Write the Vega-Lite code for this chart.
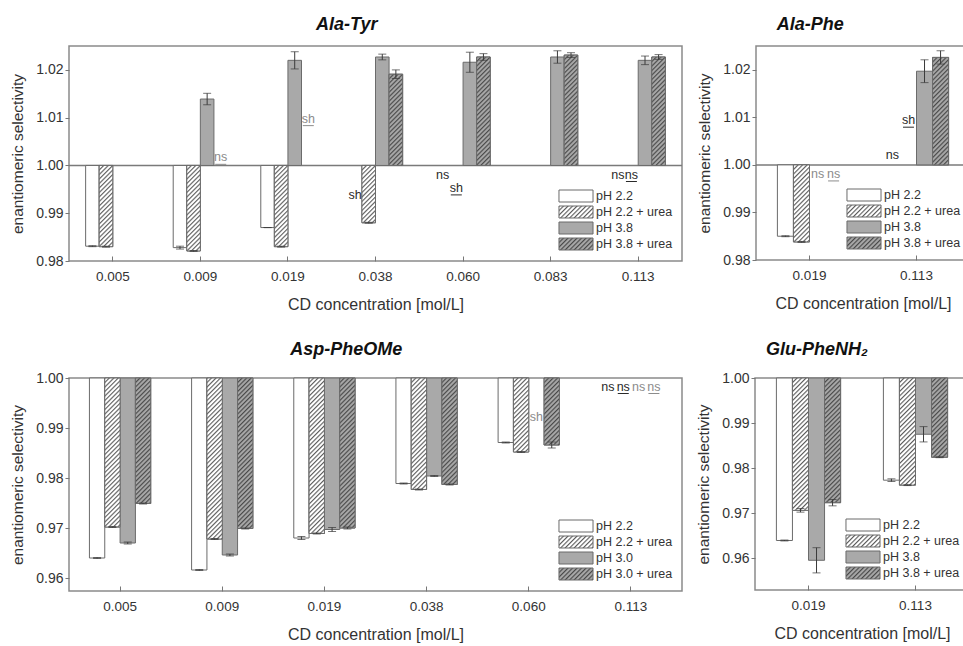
{
  "$schema": "https://vega.github.io/schema/vega-lite/v6.json",
  "padding": {"left": 10, "top": 15, "right": 0, "bottom": 0},
  "background": "#ffffff",
  "params": [
    {"name": "hatchLight", "value": [
      {"offset":0,"color":"#5e5e5e"},{"offset":0.01,"color":"#ffffff"},{"offset":0.0175,"color":"#ffffff"},
      {"offset":0.025,"color":"#5e5e5e"},{"offset":0.035,"color":"#ffffff"},{"offset":0.0425,"color":"#ffffff"},
      {"offset":0.05,"color":"#5e5e5e"},{"offset":0.06,"color":"#ffffff"},{"offset":0.0675,"color":"#ffffff"},
      {"offset":0.075,"color":"#5e5e5e"},{"offset":0.085,"color":"#ffffff"},{"offset":0.0925,"color":"#ffffff"},
      {"offset":0.1,"color":"#5e5e5e"},{"offset":0.11,"color":"#ffffff"},{"offset":0.1175,"color":"#ffffff"},
      {"offset":0.125,"color":"#5e5e5e"},{"offset":0.135,"color":"#ffffff"},{"offset":0.1425,"color":"#ffffff"},
      {"offset":0.15,"color":"#5e5e5e"},{"offset":0.16,"color":"#ffffff"},{"offset":0.1675,"color":"#ffffff"},
      {"offset":0.175,"color":"#5e5e5e"},{"offset":0.185,"color":"#ffffff"},{"offset":0.1925,"color":"#ffffff"},
      {"offset":0.2,"color":"#5e5e5e"},{"offset":0.21,"color":"#ffffff"},{"offset":0.2175,"color":"#ffffff"},
      {"offset":0.225,"color":"#5e5e5e"},{"offset":0.235,"color":"#ffffff"},{"offset":0.2425,"color":"#ffffff"},
      {"offset":0.25,"color":"#5e5e5e"},{"offset":0.26,"color":"#ffffff"},{"offset":0.2675,"color":"#ffffff"},
      {"offset":0.275,"color":"#5e5e5e"},{"offset":0.285,"color":"#ffffff"},{"offset":0.2925,"color":"#ffffff"},
      {"offset":0.3,"color":"#5e5e5e"},{"offset":0.31,"color":"#ffffff"},{"offset":0.3175,"color":"#ffffff"},
      {"offset":0.325,"color":"#5e5e5e"},{"offset":0.335,"color":"#ffffff"},{"offset":0.3425,"color":"#ffffff"},
      {"offset":0.35,"color":"#5e5e5e"},{"offset":0.36,"color":"#ffffff"},{"offset":0.3675,"color":"#ffffff"},
      {"offset":0.375,"color":"#5e5e5e"},{"offset":0.385,"color":"#ffffff"},{"offset":0.3925,"color":"#ffffff"},
      {"offset":0.4,"color":"#5e5e5e"},{"offset":0.41,"color":"#ffffff"},{"offset":0.4175,"color":"#ffffff"},
      {"offset":0.425,"color":"#5e5e5e"},{"offset":0.435,"color":"#ffffff"},{"offset":0.4425,"color":"#ffffff"},
      {"offset":0.45,"color":"#5e5e5e"},{"offset":0.46,"color":"#ffffff"},{"offset":0.4675,"color":"#ffffff"},
      {"offset":0.475,"color":"#5e5e5e"},{"offset":0.485,"color":"#ffffff"},{"offset":0.4925,"color":"#ffffff"},
      {"offset":0.5,"color":"#5e5e5e"},{"offset":0.51,"color":"#ffffff"},{"offset":0.5175,"color":"#ffffff"},
      {"offset":0.525,"color":"#5e5e5e"},{"offset":0.535,"color":"#ffffff"},{"offset":0.5425,"color":"#ffffff"},
      {"offset":0.55,"color":"#5e5e5e"},{"offset":0.56,"color":"#ffffff"},{"offset":0.5675,"color":"#ffffff"},
      {"offset":0.575,"color":"#5e5e5e"},{"offset":0.585,"color":"#ffffff"},{"offset":0.5925,"color":"#ffffff"},
      {"offset":0.6,"color":"#5e5e5e"},{"offset":0.61,"color":"#ffffff"},{"offset":0.6175,"color":"#ffffff"},
      {"offset":0.625,"color":"#5e5e5e"},{"offset":0.635,"color":"#ffffff"},{"offset":0.6425,"color":"#ffffff"},
      {"offset":0.65,"color":"#5e5e5e"},{"offset":0.66,"color":"#ffffff"},{"offset":0.6675,"color":"#ffffff"},
      {"offset":0.675,"color":"#5e5e5e"},{"offset":0.685,"color":"#ffffff"},{"offset":0.6925,"color":"#ffffff"},
      {"offset":0.7,"color":"#5e5e5e"},{"offset":0.71,"color":"#ffffff"},{"offset":0.7175,"color":"#ffffff"},
      {"offset":0.725,"color":"#5e5e5e"},{"offset":0.735,"color":"#ffffff"},{"offset":0.7425,"color":"#ffffff"},
      {"offset":0.75,"color":"#5e5e5e"},{"offset":0.76,"color":"#ffffff"},{"offset":0.7675,"color":"#ffffff"},
      {"offset":0.775,"color":"#5e5e5e"},{"offset":0.785,"color":"#ffffff"},{"offset":0.7925,"color":"#ffffff"},
      {"offset":0.8,"color":"#5e5e5e"},{"offset":0.81,"color":"#ffffff"},{"offset":0.8175,"color":"#ffffff"},
      {"offset":0.825,"color":"#5e5e5e"},{"offset":0.835,"color":"#ffffff"},{"offset":0.8425,"color":"#ffffff"},
      {"offset":0.85,"color":"#5e5e5e"},{"offset":0.86,"color":"#ffffff"},{"offset":0.8675,"color":"#ffffff"},
      {"offset":0.875,"color":"#5e5e5e"},{"offset":0.885,"color":"#ffffff"},{"offset":0.8925,"color":"#ffffff"},
      {"offset":0.9,"color":"#5e5e5e"},{"offset":0.91,"color":"#ffffff"},{"offset":0.9175,"color":"#ffffff"},
      {"offset":0.925,"color":"#5e5e5e"},{"offset":0.935,"color":"#ffffff"},{"offset":0.9425,"color":"#ffffff"},
      {"offset":0.95,"color":"#5e5e5e"},{"offset":0.96,"color":"#ffffff"},{"offset":0.9675,"color":"#ffffff"},
      {"offset":0.975,"color":"#5e5e5e"},{"offset":0.985,"color":"#ffffff"},{"offset":0.9925,"color":"#ffffff"},
      {"offset":1,"color":"#5e5e5e"}
    ]},
    {"name": "hatchDark", "value": [
      {"offset":0,"color":"#4a4a4a"},{"offset":0.01,"color":"#a6a6a6"},{"offset":0.0175,"color":"#a6a6a6"},
      {"offset":0.025,"color":"#4a4a4a"},{"offset":0.035,"color":"#a6a6a6"},{"offset":0.0425,"color":"#a6a6a6"},
      {"offset":0.05,"color":"#4a4a4a"},{"offset":0.06,"color":"#a6a6a6"},{"offset":0.0675,"color":"#a6a6a6"},
      {"offset":0.075,"color":"#4a4a4a"},{"offset":0.085,"color":"#a6a6a6"},{"offset":0.0925,"color":"#a6a6a6"},
      {"offset":0.1,"color":"#4a4a4a"},{"offset":0.11,"color":"#a6a6a6"},{"offset":0.1175,"color":"#a6a6a6"},
      {"offset":0.125,"color":"#4a4a4a"},{"offset":0.135,"color":"#a6a6a6"},{"offset":0.1425,"color":"#a6a6a6"},
      {"offset":0.15,"color":"#4a4a4a"},{"offset":0.16,"color":"#a6a6a6"},{"offset":0.1675,"color":"#a6a6a6"},
      {"offset":0.175,"color":"#4a4a4a"},{"offset":0.185,"color":"#a6a6a6"},{"offset":0.1925,"color":"#a6a6a6"},
      {"offset":0.2,"color":"#4a4a4a"},{"offset":0.21,"color":"#a6a6a6"},{"offset":0.2175,"color":"#a6a6a6"},
      {"offset":0.225,"color":"#4a4a4a"},{"offset":0.235,"color":"#a6a6a6"},{"offset":0.2425,"color":"#a6a6a6"},
      {"offset":0.25,"color":"#4a4a4a"},{"offset":0.26,"color":"#a6a6a6"},{"offset":0.2675,"color":"#a6a6a6"},
      {"offset":0.275,"color":"#4a4a4a"},{"offset":0.285,"color":"#a6a6a6"},{"offset":0.2925,"color":"#a6a6a6"},
      {"offset":0.3,"color":"#4a4a4a"},{"offset":0.31,"color":"#a6a6a6"},{"offset":0.3175,"color":"#a6a6a6"},
      {"offset":0.325,"color":"#4a4a4a"},{"offset":0.335,"color":"#a6a6a6"},{"offset":0.3425,"color":"#a6a6a6"},
      {"offset":0.35,"color":"#4a4a4a"},{"offset":0.36,"color":"#a6a6a6"},{"offset":0.3675,"color":"#a6a6a6"},
      {"offset":0.375,"color":"#4a4a4a"},{"offset":0.385,"color":"#a6a6a6"},{"offset":0.3925,"color":"#a6a6a6"},
      {"offset":0.4,"color":"#4a4a4a"},{"offset":0.41,"color":"#a6a6a6"},{"offset":0.4175,"color":"#a6a6a6"},
      {"offset":0.425,"color":"#4a4a4a"},{"offset":0.435,"color":"#a6a6a6"},{"offset":0.4425,"color":"#a6a6a6"},
      {"offset":0.45,"color":"#4a4a4a"},{"offset":0.46,"color":"#a6a6a6"},{"offset":0.4675,"color":"#a6a6a6"},
      {"offset":0.475,"color":"#4a4a4a"},{"offset":0.485,"color":"#a6a6a6"},{"offset":0.4925,"color":"#a6a6a6"},
      {"offset":0.5,"color":"#4a4a4a"},{"offset":0.51,"color":"#a6a6a6"},{"offset":0.5175,"color":"#a6a6a6"},
      {"offset":0.525,"color":"#4a4a4a"},{"offset":0.535,"color":"#a6a6a6"},{"offset":0.5425,"color":"#a6a6a6"},
      {"offset":0.55,"color":"#4a4a4a"},{"offset":0.56,"color":"#a6a6a6"},{"offset":0.5675,"color":"#a6a6a6"},
      {"offset":0.575,"color":"#4a4a4a"},{"offset":0.585,"color":"#a6a6a6"},{"offset":0.5925,"color":"#a6a6a6"},
      {"offset":0.6,"color":"#4a4a4a"},{"offset":0.61,"color":"#a6a6a6"},{"offset":0.6175,"color":"#a6a6a6"},
      {"offset":0.625,"color":"#4a4a4a"},{"offset":0.635,"color":"#a6a6a6"},{"offset":0.6425,"color":"#a6a6a6"},
      {"offset":0.65,"color":"#4a4a4a"},{"offset":0.66,"color":"#a6a6a6"},{"offset":0.6675,"color":"#a6a6a6"},
      {"offset":0.675,"color":"#4a4a4a"},{"offset":0.685,"color":"#a6a6a6"},{"offset":0.6925,"color":"#a6a6a6"},
      {"offset":0.7,"color":"#4a4a4a"},{"offset":0.71,"color":"#a6a6a6"},{"offset":0.7175,"color":"#a6a6a6"},
      {"offset":0.725,"color":"#4a4a4a"},{"offset":0.735,"color":"#a6a6a6"},{"offset":0.7425,"color":"#a6a6a6"},
      {"offset":0.75,"color":"#4a4a4a"},{"offset":0.76,"color":"#a6a6a6"},{"offset":0.7675,"color":"#a6a6a6"},
      {"offset":0.775,"color":"#4a4a4a"},{"offset":0.785,"color":"#a6a6a6"},{"offset":0.7925,"color":"#a6a6a6"},
      {"offset":0.8,"color":"#4a4a4a"},{"offset":0.81,"color":"#a6a6a6"},{"offset":0.8175,"color":"#a6a6a6"},
      {"offset":0.825,"color":"#4a4a4a"},{"offset":0.835,"color":"#a6a6a6"},{"offset":0.8425,"color":"#a6a6a6"},
      {"offset":0.85,"color":"#4a4a4a"},{"offset":0.86,"color":"#a6a6a6"},{"offset":0.8675,"color":"#a6a6a6"},
      {"offset":0.875,"color":"#4a4a4a"},{"offset":0.885,"color":"#a6a6a6"},{"offset":0.8925,"color":"#a6a6a6"},
      {"offset":0.9,"color":"#4a4a4a"},{"offset":0.91,"color":"#a6a6a6"},{"offset":0.9175,"color":"#a6a6a6"},
      {"offset":0.925,"color":"#4a4a4a"},{"offset":0.935,"color":"#a6a6a6"},{"offset":0.9425,"color":"#a6a6a6"},
      {"offset":0.95,"color":"#4a4a4a"},{"offset":0.96,"color":"#a6a6a6"},{"offset":0.9675,"color":"#a6a6a6"},
      {"offset":0.975,"color":"#4a4a4a"},{"offset":0.985,"color":"#a6a6a6"},{"offset":0.9925,"color":"#a6a6a6"},
      {"offset":1,"color":"#4a4a4a"}
    ]}
  ],
  "datasets": {
    "alaTyr": [
      {"c":"0.005","s":"pH 2.2","v":0.9831,"e":0.0001},
      {"c":"0.005","s":"pH 2.2 + urea","v":0.983,"e":0.0001},
      {"c":"0.009","s":"pH 2.2","v":0.9828,"e":0.0003},
      {"c":"0.009","s":"pH 2.2 + urea","v":0.9821,"e":0.0001},
      {"c":"0.009","s":"pH 3.8","v":1.0139,"e":0.0012},
      {"c":"0.019","s":"pH 2.2","v":0.987,"e":0},
      {"c":"0.019","s":"pH 2.2 + urea","v":0.983,"e":0.0001},
      {"c":"0.019","s":"pH 3.8","v":1.022,"e":0.0018},
      {"c":"0.038","s":"pH 2.2 + urea","v":0.988,"e":0.0001},
      {"c":"0.038","s":"pH 3.8","v":1.0227,"e":0.0006},
      {"c":"0.038","s":"pH 3.8 + urea","v":1.0191,"e":0.0009},
      {"c":"0.060","s":"pH 3.8","v":1.0216,"e":0.0021},
      {"c":"0.060","s":"pH 3.8 + urea","v":1.0227,"e":0.0007},
      {"c":"0.083","s":"pH 3.8","v":1.0227,"e":0.0013},
      {"c":"0.083","s":"pH 3.8 + urea","v":1.0231,"e":0.0005},
      {"c":"0.113","s":"pH 3.8","v":1.022,"e":0.0009},
      {"c":"0.113","s":"pH 3.8 + urea","v":1.0227,"e":0.0005}
    ],
    "alaTyrNotes": [
      {"c":"0.009","s":"pH 3.8 + urea","t":"ns","v":1.0017},
      {"c":"0.019","s":"pH 3.8 + urea","t":"sh","v":1.0098},
      {"c":"0.038","s":"pH 2.2","t":"sh","v":0.9938},
      {"c":"0.060","s":"pH 2.2","t":"ns","v":0.9981},
      {"c":"0.060","s":"pH 2.2 + urea","t":"sh","v":0.9953},
      {"c":"0.113","s":"pH 2.2","t":"ns","v":0.9981},
      {"c":"0.113","s":"pH 2.2 + urea","t":"ns","v":0.9981}
    ],
    "alaPhe": [
      {"c":"0.019","s":"pH 2.2","v":0.985,"e":0.0001},
      {"c":"0.019","s":"pH 2.2 + urea","v":0.9838,"e":0.0001},
      {"c":"0.113","s":"pH 3.8","v":1.0197,"e":0.0024},
      {"c":"0.113","s":"pH 3.8 + urea","v":1.0226,"e":0.0014}
    ],
    "alaPheNotes": [
      {"c":"0.019","s":"pH 3.8","t":"ns","v":0.9981},
      {"c":"0.019","s":"pH 3.8 + urea","t":"ns","v":0.9981},
      {"c":"0.113","s":"pH 2.2","t":"ns","v":1.0021},
      {"c":"0.113","s":"pH 2.2 + urea","t":"sh","v":1.0094}
    ],
    "aspPheOMe": [
      {"c":"0.005","s":"pH 2.2","v":0.964,"e":0.0001},
      {"c":"0.005","s":"pH 2.2 + urea","v":0.9702,"e":0.0001},
      {"c":"0.005","s":"pH 3.0","v":0.967,"e":0.0002},
      {"c":"0.005","s":"pH 3.0 + urea","v":0.9749,"e":0.0001},
      {"c":"0.009","s":"pH 2.2","v":0.9616,"e":0.0001},
      {"c":"0.009","s":"pH 2.2 + urea","v":0.9678,"e":0.0001},
      {"c":"0.009","s":"pH 3.0","v":0.9646,"e":0.0002},
      {"c":"0.009","s":"pH 3.0 + urea","v":0.9699,"e":0.0001},
      {"c":"0.019","s":"pH 2.2","v":0.968,"e":0.0003},
      {"c":"0.019","s":"pH 2.2 + urea","v":0.9689,"e":0.0001},
      {"c":"0.019","s":"pH 3.0","v":0.9697,"e":0.0004},
      {"c":"0.019","s":"pH 3.0 + urea","v":0.97,"e":0.0002},
      {"c":"0.038","s":"pH 2.2","v":0.9789,"e":0.0001},
      {"c":"0.038","s":"pH 2.2 + urea","v":0.9777,"e":0.0001},
      {"c":"0.038","s":"pH 3.0","v":0.9804,"e":0.0001},
      {"c":"0.038","s":"pH 3.0 + urea","v":0.9787,"e":0.0001},
      {"c":"0.060","s":"pH 2.2","v":0.9871,"e":0.0001},
      {"c":"0.060","s":"pH 2.2 + urea","v":0.9852,"e":0.0001},
      {"c":"0.060","s":"pH 3.0 + urea","v":0.9866,"e":0.0006}
    ],
    "aspPheOMeNotes": [
      {"c":"0.060","s":"pH 3.0","t":"sh","v":0.9923},
      {"c":"0.113","s":"pH 2.2","t":"ns","v":0.9983},
      {"c":"0.113","s":"pH 2.2 + urea","t":"ns","v":0.9983},
      {"c":"0.113","s":"pH 3.0","t":"ns","v":0.9983},
      {"c":"0.113","s":"pH 3.0 + urea","t":"ns","v":0.9983}
    ],
    "gluPheNH2": [
      {"c":"0.019","s":"pH 2.2","v":0.9639,"e":0.0001},
      {"c":"0.019","s":"pH 2.2 + urea","v":0.9706,"e":0.0004},
      {"c":"0.019","s":"pH 3.8","v":0.9595,"e":0.0028},
      {"c":"0.019","s":"pH 3.8 + urea","v":0.9723,"e":0.0007},
      {"c":"0.113","s":"pH 2.2","v":0.9773,"e":0.0003},
      {"c":"0.113","s":"pH 2.2 + urea","v":0.9762,"e":0.0001},
      {"c":"0.113","s":"pH 3.8","v":0.9875,"e":0.0017},
      {"c":"0.113","s":"pH 3.8 + urea","v":0.9824,"e":0.0001}
    ]
  },
  "vconcat": [
    {
      "hconcat": [
        {
          "width": 613,
          "height": 215,
          "title": {"text": "Ala-Tyr"},
          "data": {"name": "alaTyr"},
          "layer": [
            {
              "data": {"values": [{}]},
              "mark": {"type": "rule", "color": "#7a7a7a", "strokeWidth": 1.5},
              "encoding": {"y": {"datum": 1, "type": "quantitative", "title": "enantiomeric selectivity"}}
            },
            {
              "mark": {"type": "bar", "strokeWidth": 1},
              "encoding": {
                "x": {"field": "c", "type": "nominal", "scale": {"domain": ["0.005","0.009","0.019","0.038","0.060","0.083","0.113"], "paddingInner": 0.38, "paddingOuter": 0.19}, "axis": {"title": "CD concentration [mol/L]"}},
                "xOffset": {"field": "s", "type": "nominal", "scale": {"domain": ["pH 2.2","pH 2.2 + urea","pH 3.8","pH 3.8 + urea"], "paddingInner": 0, "paddingOuter": 0}},
                "y": {"field": "v", "type": "quantitative", "title": "enantiomeric selectivity", "scale": {"domain": [0.98, 1.025], "nice": false, "zero": false}, "axis": {"values": [0.98, 0.99, 1.0, 1.01, 1.02], "format": ".2f"}},
                "y2": {"datum": 1},
                "fill": {"field": "s", "type": "nominal", "scale": {"domain": ["pH 2.2","pH 2.2 + urea","pH 3.8","pH 3.8 + urea"], "range": ["#ffffff", {"expr": "{gradient:'linear',x1:0,y1:0,x2:4.708,y2:1.661,stops:hatchLight}"}, "#a9a9a9", {"expr": "{gradient:'linear',x1:0,y1:0,x2:4.708,y2:1.661,stops:hatchDark}"}]},
                  "legend": {"title": null, "symbolStrokeColor": "#6b6b6b", "symbolStrokeWidth": 1}},
                "stroke": {"value": "#6b6b6b"}
              }
            },
            {
              "transform": [{"filter": "indexof(datum.s,'urea') >= 0"}],
              "mark": {"type": "bar", "strokeWidth": 1, "stroke": "#6b6b6b"},
              "encoding": {
                "x": {"field": "c", "type": "nominal"},
                "xOffset": {"field": "s", "type": "nominal", "scale": {"domain": ["pH 2.2","pH 2.2 + urea","pH 3.8","pH 3.8 + urea"], "paddingInner": 0, "paddingOuter": 0}},
                "y": {"field": "v", "type": "quantitative", "title": "enantiomeric selectivity"},
                "y2": {"datum": 1},
                "fill": {"value": {"expr": "{gradient:'linear',x1:0,y1:0,x2:13.235/(1+pow(abs(1-datum.v)*351.5,2)),y2:13.235*abs(1-datum.v)*351.5/(1+pow(abs(1-datum.v)*351.5,2)),stops:indexof(''+datum.s,'2.2')>=0?hatchLight:hatchDark}"}}
              }
            },
            {
              "mark": {"type": "errorbar", "ticks": {"size": 8, "thickness": 1, "color": "#3a3a3a"}, "rule": {"color": "#3a3a3a", "strokeWidth": 1}},
              "encoding": {
                "x": {"field": "c", "type": "nominal"},
                "xOffset": {"field": "s", "type": "nominal", "scale": {"domain": ["pH 2.2","pH 2.2 + urea","pH 3.8","pH 3.8 + urea"], "paddingInner": 0, "paddingOuter": 0}},
                "y": {"field": "v", "type": "quantitative", "title": "enantiomeric selectivity"},
                "yError": {"field": "e"}
              }
            },
            {
              "data": {"name": "alaTyrNotes"},
              "mark": {"type": "text", "fontSize": 12.5, "baseline": "middle"},
              "encoding": {
                "x": {"field": "c", "type": "nominal"},
                "xOffset": {"field": "s", "type": "nominal", "scale": {"domain": ["pH 2.2","pH 2.2 + urea","pH 3.8","pH 3.8 + urea"], "paddingInner": 0, "paddingOuter": 0}},
                "y": {"field": "v", "type": "quantitative", "title": "enantiomeric selectivity"},
                "text": {"field": "t"},
                "color": {"condition": {"test": "indexof(datum.s,'2.2') < 0", "value": "#8c8c8c"}, "value": "#2a2a2a"}
              }
            },
            {
              "data": {"name": "alaTyrNotes"},
              "transform": [{"filter": "indexof(datum.s,'urea') >= 0"}],
              "mark": {"type": "tick", "orient": "horizontal", "size": 11, "thickness": 1, "yOffset": 7, "opacity": 1},
              "encoding": {
                "x": {"field": "c", "type": "nominal"},
                "xOffset": {"field": "s", "type": "nominal", "scale": {"domain": ["pH 2.2","pH 2.2 + urea","pH 3.8","pH 3.8 + urea"], "paddingInner": 0, "paddingOuter": 0}},
                "y": {"field": "v", "type": "quantitative", "title": "enantiomeric selectivity"},
                "color": {"condition": {"test": "indexof(datum.s,'2.2') < 0", "value": "#8c8c8c"}, "value": "#2a2a2a"}
              }
            }
          ]
        },
        {
          "width": 214,
          "height": 214,
          "title": {"text": "Ala-Phe", "dx": -24},
          "data": {"name": "alaPhe"},
          "layer": [
            {
              "data": {"values": [{}]},
              "mark": {"type": "rule", "color": "#7a7a7a", "strokeWidth": 1.5},
              "encoding": {"y": {"datum": 1, "type": "quantitative", "title": "enantiomeric selectivity"}}
            },
            {
              "mark": {"type": "bar", "strokeWidth": 1},
              "encoding": {
                "x": {"field": "c", "type": "nominal", "scale": {"domain": ["0.019","0.113"], "paddingInner": 0.4, "paddingOuter": 0.2}, "axis": {"title": "CD concentration [mol/L]"}},
                "xOffset": {"field": "s", "type": "nominal", "scale": {"domain": ["pH 2.2","pH 2.2 + urea","pH 3.8","pH 3.8 + urea"], "paddingInner": 0, "paddingOuter": 0}},
                "y": {"field": "v", "type": "quantitative", "title": "enantiomeric selectivity", "scale": {"domain": [0.98, 1.025], "nice": false, "zero": false}, "axis": {"values": [0.98, 0.99, 1.0, 1.01, 1.02], "format": ".2f"}},
                "y2": {"datum": 1},
                "fill": {"field": "s", "type": "nominal", "scale": {"domain": ["pH 2.2","pH 2.2 + urea","pH 3.8","pH 3.8 + urea"], "range": ["#ffffff", {"expr": "{gradient:'linear',x1:0,y1:0,x2:4.708,y2:1.661,stops:hatchLight}"}, "#a9a9a9", {"expr": "{gradient:'linear',x1:0,y1:0,x2:4.708,y2:1.661,stops:hatchDark}"}]},
                  "legend": {"title": null, "symbolStrokeColor": "#6b6b6b", "symbolStrokeWidth": 1}},
                "stroke": {"value": "#6b6b6b"}
              }
            },
            {
              "transform": [{"filter": "indexof(datum.s,'urea') >= 0"}],
              "mark": {"type": "bar", "strokeWidth": 1, "stroke": "#6b6b6b"},
              "encoding": {
                "x": {"field": "c", "type": "nominal"},
                "xOffset": {"field": "s", "type": "nominal", "scale": {"domain": ["pH 2.2","pH 2.2 + urea","pH 3.8","pH 3.8 + urea"], "paddingInner": 0, "paddingOuter": 0}},
                "y": {"field": "v", "type": "quantitative", "title": "enantiomeric selectivity"},
                "y2": {"datum": 1},
                "fill": {"value": {"expr": "{gradient:'linear',x1:0,y1:0,x2:11.25/(1+pow(abs(1-datum.v)*293.75,2)),y2:11.25*abs(1-datum.v)*293.75/(1+pow(abs(1-datum.v)*293.75,2)),stops:indexof(''+datum.s,'2.2')>=0?hatchLight:hatchDark}"}}
              }
            },
            {
              "mark": {"type": "errorbar", "ticks": {"size": 8, "thickness": 1, "color": "#3a3a3a"}, "rule": {"color": "#3a3a3a", "strokeWidth": 1}},
              "encoding": {
                "x": {"field": "c", "type": "nominal"},
                "xOffset": {"field": "s", "type": "nominal", "scale": {"domain": ["pH 2.2","pH 2.2 + urea","pH 3.8","pH 3.8 + urea"], "paddingInner": 0, "paddingOuter": 0}},
                "y": {"field": "v", "type": "quantitative", "title": "enantiomeric selectivity"},
                "yError": {"field": "e"}
              }
            },
            {
              "data": {"name": "alaPheNotes"},
              "mark": {"type": "text", "fontSize": 12.5, "baseline": "middle"},
              "encoding": {
                "x": {"field": "c", "type": "nominal"},
                "xOffset": {"field": "s", "type": "nominal", "scale": {"domain": ["pH 2.2","pH 2.2 + urea","pH 3.8","pH 3.8 + urea"], "paddingInner": 0, "paddingOuter": 0}},
                "y": {"field": "v", "type": "quantitative", "title": "enantiomeric selectivity"},
                "text": {"field": "t"},
                "color": {"condition": {"test": "indexof(datum.s,'2.2') < 0", "value": "#8c8c8c"}, "value": "#2a2a2a"}
              }
            },
            {
              "data": {"name": "alaPheNotes"},
              "transform": [{"filter": "indexof(datum.s,'urea') >= 0"}],
              "mark": {"type": "tick", "orient": "horizontal", "size": 11, "thickness": 1, "yOffset": 7, "opacity": 1},
              "encoding": {
                "x": {"field": "c", "type": "nominal"},
                "xOffset": {"field": "s", "type": "nominal", "scale": {"domain": ["pH 2.2","pH 2.2 + urea","pH 3.8","pH 3.8 + urea"], "paddingInner": 0, "paddingOuter": 0}},
                "y": {"field": "v", "type": "quantitative", "title": "enantiomeric selectivity"},
                "color": {"condition": {"test": "indexof(datum.s,'2.2') < 0", "value": "#8c8c8c"}, "value": "#2a2a2a"}
              }
            }
          ]
        }
      ],
      "spacing": 13,
      "resolve": {"scale": {"fill": "independent", "xOffset": "independent"}, "legend": {"fill": "independent"}}
    },
    {
      "hconcat": [
        {
          "width": 613,
          "height": 213,
          "title": {"text": "Asp-PheOMe"},
          "data": {"name": "aspPheOMe"},
          "layer": [
            {
              "mark": {"type": "bar", "strokeWidth": 1},
              "encoding": {
                "x": {"field": "c", "type": "nominal", "scale": {"domain": ["0.005","0.009","0.019","0.038","0.060","0.113"], "paddingInner": 0.4, "paddingOuter": 0.2}, "axis": {"title": "CD concentration [mol/L]"}},
                "xOffset": {"field": "s", "type": "nominal", "scale": {"domain": ["pH 2.2","pH 2.2 + urea","pH 3.0","pH 3.0 + urea"], "paddingInner": 0, "paddingOuter": 0}},
                "y": {"field": "v", "type": "quantitative", "title": "enantiomeric selectivity", "scale": {"domain": [0.9574, 1.0], "nice": false, "zero": false}, "axis": {"values": [0.96, 0.97, 0.98, 0.99, 1.0], "format": ".2f"}},
                "y2": {"datum": 1},
                "fill": {"field": "s", "type": "nominal", "scale": {"domain": ["pH 2.2","pH 2.2 + urea","pH 3.0","pH 3.0 + urea"], "range": ["#ffffff", {"expr": "{gradient:'linear',x1:0,y1:0,x2:4.708,y2:1.661,stops:hatchLight}"}, "#a9a9a9", {"expr": "{gradient:'linear',x1:0,y1:0,x2:4.708,y2:1.661,stops:hatchDark}"}]},
                  "legend": {"title": null, "symbolStrokeColor": "#6b6b6b", "symbolStrokeWidth": 1}},
                "stroke": {"value": "#6b6b6b"}
              }
            },
            {
              "transform": [{"filter": "indexof(datum.s,'urea') >= 0"}],
              "mark": {"type": "bar", "strokeWidth": 1, "stroke": "#6b6b6b"},
              "encoding": {
                "x": {"field": "c", "type": "nominal"},
                "xOffset": {"field": "s", "type": "nominal", "scale": {"domain": ["pH 2.2","pH 2.2 + urea","pH 3.0","pH 3.0 + urea"], "paddingInner": 0, "paddingOuter": 0}},
                "y": {"field": "v", "type": "quantitative", "title": "enantiomeric selectivity"},
                "y2": {"datum": 1},
                "fill": {"value": {"expr": "{gradient:'linear',x1:0,y1:0,x2:11.688/(1+pow(abs(1-datum.v)*324.7,2)),y2:11.688*abs(1-datum.v)*324.7/(1+pow(abs(1-datum.v)*324.7,2)),stops:indexof(''+datum.s,'2.2')>=0?hatchLight:hatchDark}"}}
              }
            },
            {
              "mark": {"type": "errorbar", "ticks": {"size": 8, "thickness": 1, "color": "#3a3a3a"}, "rule": {"color": "#3a3a3a", "strokeWidth": 1}},
              "encoding": {
                "x": {"field": "c", "type": "nominal"},
                "xOffset": {"field": "s", "type": "nominal", "scale": {"domain": ["pH 2.2","pH 2.2 + urea","pH 3.0","pH 3.0 + urea"], "paddingInner": 0, "paddingOuter": 0}},
                "y": {"field": "v", "type": "quantitative", "title": "enantiomeric selectivity"},
                "yError": {"field": "e"}
              }
            },
            {
              "data": {"name": "aspPheOMeNotes"},
              "mark": {"type": "text", "fontSize": 12.5, "baseline": "middle"},
              "encoding": {
                "x": {"field": "c", "type": "nominal"},
                "xOffset": {"field": "s", "type": "nominal", "scale": {"domain": ["pH 2.2","pH 2.2 + urea","pH 3.0","pH 3.0 + urea"], "paddingInner": 0, "paddingOuter": 0}},
                "y": {"field": "v", "type": "quantitative", "title": "enantiomeric selectivity"},
                "text": {"field": "t"},
                "color": {"condition": {"test": "indexof(datum.s,'2.2') < 0", "value": "#8c8c8c"}, "value": "#2a2a2a"}
              }
            },
            {
              "data": {"name": "aspPheOMeNotes"},
              "transform": [{"filter": "indexof(datum.s,'urea') >= 0"}],
              "mark": {"type": "tick", "orient": "horizontal", "size": 11, "thickness": 1, "yOffset": 7, "opacity": 1},
              "encoding": {
                "x": {"field": "c", "type": "nominal"},
                "xOffset": {"field": "s", "type": "nominal", "scale": {"domain": ["pH 2.2","pH 2.2 + urea","pH 3.0","pH 3.0 + urea"], "paddingInner": 0, "paddingOuter": 0}},
                "y": {"field": "v", "type": "quantitative", "title": "enantiomeric selectivity"},
                "color": {"condition": {"test": "indexof(datum.s,'2.2') < 0", "value": "#8c8c8c"}, "value": "#2a2a2a"}
              }
            }
          ]
        },
        {
          "width": 214,
          "height": 212,
          "title": {"text": "Glu-PheNH₂", "dx": -16},
          "data": {"name": "gluPheNH2"},
          "layer": [
            {
              "mark": {"type": "bar", "strokeWidth": 1},
              "encoding": {
                "x": {"field": "c", "type": "nominal", "scale": {"domain": ["0.019","0.113"], "paddingInner": 0.4, "paddingOuter": 0.2}, "axis": {"title": "CD concentration [mol/L]"}},
                "xOffset": {"field": "s", "type": "nominal", "scale": {"domain": ["pH 2.2","pH 2.2 + urea","pH 3.8","pH 3.8 + urea"], "paddingInner": 0, "paddingOuter": 0}},
                "y": {"field": "v", "type": "quantitative", "title": "enantiomeric selectivity", "scale": {"domain": [0.9529, 1.0], "nice": false, "zero": false}, "axis": {"values": [0.96, 0.97, 0.98, 0.99, 1.0], "format": ".2f"}},
                "y2": {"datum": 1},
                "fill": {"field": "s", "type": "nominal", "scale": {"domain": ["pH 2.2","pH 2.2 + urea","pH 3.8","pH 3.8 + urea"], "range": ["#ffffff", {"expr": "{gradient:'linear',x1:0,y1:0,x2:4.708,y2:1.661,stops:hatchLight}"}, "#a9a9a9", {"expr": "{gradient:'linear',x1:0,y1:0,x2:4.708,y2:1.661,stops:hatchDark}"}]},
                  "legend": {"title": null, "symbolStrokeColor": "#6b6b6b", "symbolStrokeWidth": 1}},
                "stroke": {"value": "#6b6b6b"}
              }
            },
            {
              "transform": [{"filter": "indexof(datum.s,'urea') >= 0"}],
              "mark": {"type": "bar", "strokeWidth": 1, "stroke": "#6b6b6b"},
              "encoding": {
                "x": {"field": "c", "type": "nominal"},
                "xOffset": {"field": "s", "type": "nominal", "scale": {"domain": ["pH 2.2","pH 2.2 + urea","pH 3.8","pH 3.8 + urea"], "paddingInner": 0, "paddingOuter": 0}},
                "y": {"field": "v", "type": "quantitative", "title": "enantiomeric selectivity"},
                "y2": {"datum": 1},
                "fill": {"value": {"expr": "{gradient:'linear',x1:0,y1:0,x2:11.25/(1+pow(abs(1-datum.v)*281.25,2)),y2:11.25*abs(1-datum.v)*281.25/(1+pow(abs(1-datum.v)*281.25,2)),stops:indexof(''+datum.s,'2.2')>=0?hatchLight:hatchDark}"}}
              }
            },
            {
              "mark": {"type": "errorbar", "ticks": {"size": 8, "thickness": 1, "color": "#3a3a3a"}, "rule": {"color": "#3a3a3a", "strokeWidth": 1}},
              "encoding": {
                "x": {"field": "c", "type": "nominal"},
                "xOffset": {"field": "s", "type": "nominal", "scale": {"domain": ["pH 2.2","pH 2.2 + urea","pH 3.8","pH 3.8 + urea"], "paddingInner": 0, "paddingOuter": 0}},
                "y": {"field": "v", "type": "quantitative", "title": "enantiomeric selectivity"},
                "yError": {"field": "e"}
              }
            }
          ]
        }
      ],
      "spacing": 13,
      "resolve": {"scale": {"fill": "independent", "xOffset": "independent"}, "legend": {"fill": "independent"}}
    }
  ],
  "spacing": 26,
  "resolve": {"scale": {"fill": "independent", "xOffset": "independent"}, "legend": {"fill": "independent"}},
  "config": {
    "font": "Liberation Sans",
    "view": {"stroke": "#8a8a8a", "strokeWidth": 1.5},
    "axis": {"domain": false, "grid": false, "labelFont": "Liberation Sans", "titleFont": "Liberation Sans", "labelColor": "#333333", "titleColor": "#333333", "titleFontWeight": "normal", "tickColor": "#777777"},
    "axisX": {"labelFontSize": 13.5, "titleFontSize": 16, "labelAngle": 0, "tickSize": -5, "labelPadding": 13, "titlePadding": 14},
    "axisY": {"labelFontSize": 14, "titleFontSize": 15.5, "tickSize": 4, "labelPadding": 2, "titlePadding": 10},
    "legend": {"orient": "bottom-right", "offset": 9, "direction": "vertical", "labelFontSize": 12.5, "labelColor": "#333333", "labelFont": "Liberation Sans", "symbolType": "M-2.27,-0.8H2.27V0.8H-2.27Z", "symbolSize": 225, "labelOffset": 12, "rowPadding": 0, "padding": 0, "labelLimit": 0},
    "title": {"fontSize": 18, "fontWeight": "bold", "fontStyle": "italic", "font": "Liberation Sans", "color": "#111111", "frame": "bounds", "anchor": "middle", "offset": 12}
  }
}
